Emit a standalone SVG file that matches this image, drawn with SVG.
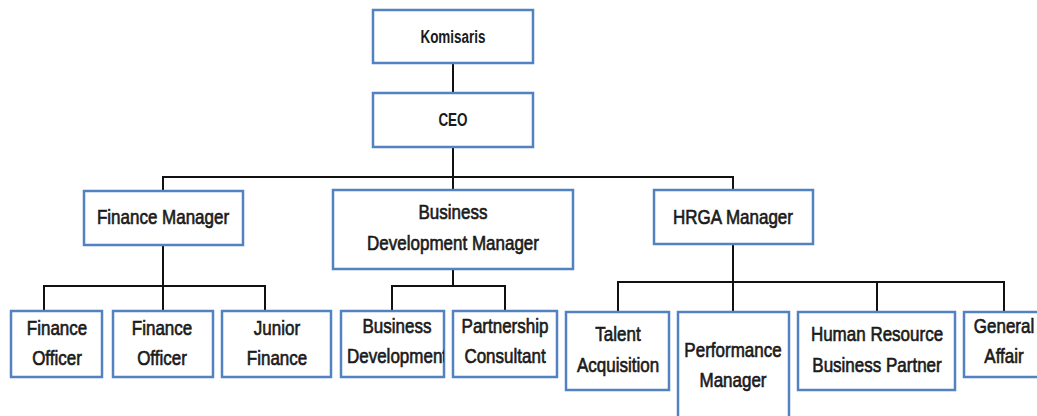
<svg xmlns="http://www.w3.org/2000/svg" width="1037" height="416" viewBox="0 0 1037 416">
  <style>
    .box { fill: #ffffff; stroke: #5282c2; stroke-width: 2.5; }
    .lbl { font-family: "Liberation Sans", Arial, sans-serif; font-size: 17px; fill: #1a1a1a; stroke: #1a1a1a; stroke-width: 0.55; text-anchor: middle; }
    .top { font-family: "Liberation Sans", Arial, sans-serif; font-size: 13.5px; font-weight: bold; fill: #1a1a1a; text-anchor: middle; }
    .conn { stroke: #111111; stroke-width: 2; fill: none; }
  </style>
  <defs>
    <clipPath id="clipBD"><rect x="341" y="311" width="103" height="66"/></clipPath>
  </defs>
  <rect width="1037" height="416" fill="#ffffff"/>

  <!-- reporting lines -->
  <g id="connectors" class="conn">
    <path d="M453 63 V93"/>
    <path d="M453 147 V177"/>
    <path d="M163 191 V177 H733 V190 M453 177 V190"/>
    <path d="M163 245 V311 M44 311 V286 H265 V311"/>
    <path d="M453 269 V286 M392 311 V286 H505 V311"/>
    <path d="M733 244 V312 M618 312 V282 H1004 V312 M877 282 V312"/>
  </g>

  <g id="komisaris">
    <rect class="box" x="373" y="10" width="160" height="53"/>
    <text class="top" transform="translate(453,43) scale(1,1.3)">Komisaris</text>
  </g>
  <g id="ceo">
    <rect class="box" x="373" y="93" width="160" height="54"/>
    <text class="top" transform="translate(453,126) scale(1,1.3)">CEO</text>
  </g>

  <g id="finance-manager">
    <rect class="box" x="84" y="191" width="159" height="54"/>
    <text class="lbl" transform="translate(163,224) scale(1,1.2)">Finance Manager</text>
  </g>
  <g id="business-development-manager">
    <rect class="box" x="333" y="190" width="240" height="79"/>
    <text class="lbl" transform="translate(453,219) scale(1,1.2)">Business<tspan x="0" dy="25.8">Development Manager</tspan></text>
  </g>
  <g id="hrga-manager">
    <rect class="box" x="654" y="190" width="159" height="54"/>
    <text class="lbl" transform="translate(733,224) scale(1,1.2)">HRGA Manager</text>
  </g>

  <g id="finance-officer-1">
    <rect class="box" x="11" y="311" width="91" height="66"/>
    <text class="lbl" transform="translate(57,335) scale(1,1.2)">Finance<tspan x="0" dy="25">Officer</tspan></text>
  </g>
  <g id="finance-officer-2">
    <rect class="box" x="113" y="311" width="100" height="66"/>
    <text class="lbl" transform="translate(162,335) scale(1,1.2)">Finance<tspan x="0" dy="25">Officer</tspan></text>
  </g>
  <g id="junior-finance">
    <rect class="box" x="222" y="311" width="109" height="66"/>
    <text class="lbl" transform="translate(277,335) scale(1,1.2)">Junior<tspan x="0" dy="25">Finance</tspan></text>
  </g>

  <g id="business-development">
    <rect class="box" x="341" y="311" width="103" height="66"/>
    <g clip-path="url(#clipBD)">
      <text class="lbl" transform="translate(397,333) scale(1,1.2)">Business<tspan x="0" dy="25">Development</tspan></text>
    </g>
  </g>
  <g id="partnership-consultant">
    <rect class="box" x="453" y="311" width="104" height="66"/>
    <text class="lbl" transform="translate(505,333) scale(1,1.2)">Partnership<tspan x="0" dy="25">Consultant</tspan></text>
  </g>

  <g id="talent-acquisition">
    <rect class="box" x="566" y="312" width="103" height="78"/>
    <text class="lbl" transform="translate(618,341) scale(1,1.2)">Talent<tspan x="0" dy="25.8">Acquisition</tspan></text>
  </g>
  <g id="performance-manager">
    <rect class="box" x="678" y="312" width="111" height="120"/>
    <text class="lbl" transform="translate(733,357) scale(1,1.2)">Performance<tspan x="0" dy="25">Manager</tspan></text>
  </g>
  <g id="hr-business-partner">
    <rect class="box" x="798" y="312" width="157" height="78"/>
    <text class="lbl" transform="translate(877,341) scale(1,1.2)">Human Resource<tspan x="0" dy="25.8">Business Partner</tspan></text>
  </g>
  <g id="general-affair">
    <rect class="box" x="964" y="312" width="85" height="65"/>
    <text class="lbl" transform="translate(1004,333) scale(1,1.2)">General<tspan x="0" dy="25">Affair</tspan></text>
  </g>
</svg>
